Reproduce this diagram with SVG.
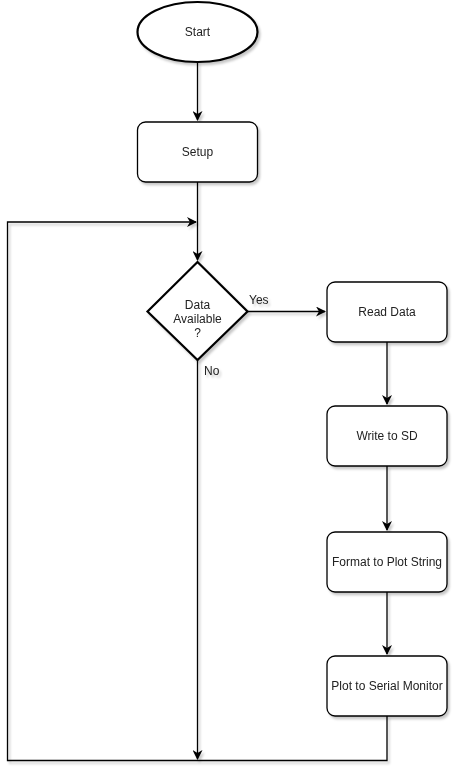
<svg xmlns="http://www.w3.org/2000/svg" width="459" height="781" viewBox="0 0 459 781">
  <defs>
    <filter id="shadow" x="-20%" y="-20%" width="140%" height="140%">
      <feDropShadow dx="2" dy="2.5" stdDeviation="1.3" flood-color="#000" flood-opacity="0.22"/>
    </filter>
    <marker id="arrow" viewBox="0 0 10 10" refX="9" refY="5" markerWidth="10" markerHeight="10" markerUnits="userSpaceOnUse" orient="auto">
      <path d="M0,0 L10,5 L0,10 L3,5 Z" fill="#000"/>
    </marker>
    <style>
      .shape { fill: #fff; stroke: #000; stroke-width: 1.3; }
      .decision { fill: #fff; stroke: #000; stroke-width: 2.2; }
      .start { fill: #fff; stroke: #000; stroke-width: 2.2; }
      .edge { fill: none; stroke: #000; stroke-width: 1.3; }
      .label { font-family: "Liberation Sans", Arial, sans-serif; font-size: 12px; fill: #222; text-anchor: middle; dominant-baseline: central; }
      .elabel { font-family: "Liberation Sans", Arial, sans-serif; font-size: 12px; fill: #222; }
    </style>
  </defs>
  <rect width="459" height="781" fill="#fff"/>

  <g id="connectors" filter="url(#shadow)">
    <path class="edge" d="M197.5,62 V120" marker-end="url(#arrow)"/>
    <path class="edge" d="M197.5,182 V260" marker-end="url(#arrow)"/>
    <path class="edge" d="M248,311.5 H325" marker-end="url(#arrow)"/>
    <path class="edge" d="M387,342 V404" marker-end="url(#arrow)"/>
    <path class="edge" d="M387,466 V530" marker-end="url(#arrow)"/>
    <path class="edge" d="M387,592 V654" marker-end="url(#arrow)"/>
    <path class="edge" d="M197.5,360 V759" marker-end="url(#arrow)"/>
    <path class="edge" d="M387,716 V760.5 H7.5 V222 H196" marker-end="url(#arrow)"/>
    <text class="elabel" x="249" y="304">Yes</text>
    <text class="elabel" x="204" y="375">No</text>
  </g>

  <g id="start" filter="url(#shadow)">
    <ellipse class="start" cx="197.5" cy="32" rx="60" ry="30"/>
    <text class="label" x="197.5" y="32">Start</text>
  </g>

  <g id="setup" filter="url(#shadow)">
    <rect class="shape" x="137.5" y="122" width="120" height="60" rx="8"/>
    <text class="label" x="197.5" y="152">Setup</text>
  </g>

  <g id="data-available" filter="url(#shadow)">
    <path class="decision" d="M197.5,262 L247.5,311.5 L197.5,360 L147.5,311.5 Z"/>
    <text class="label" x="197.5" y="305">Data</text>
    <text class="label" x="197.5" y="319">Available</text>
    <text class="label" x="197.5" y="333">?</text>
  </g>

  <g id="read-data" filter="url(#shadow)">
    <rect class="shape" x="327" y="282" width="120" height="60" rx="8"/>
    <text class="label" x="387" y="312">Read Data</text>
  </g>

  <g id="write-sd" filter="url(#shadow)">
    <rect class="shape" x="327" y="406" width="120" height="60" rx="8"/>
    <text class="label" x="387" y="436">Write to SD</text>
  </g>

  <g id="format-plot" filter="url(#shadow)">
    <rect class="shape" x="327" y="532" width="120" height="60" rx="8"/>
    <text class="label" x="387" y="562">Format to Plot String</text>
  </g>

  <g id="plot-serial" filter="url(#shadow)">
    <rect class="shape" x="327" y="656" width="120" height="60" rx="8"/>
    <text class="label" x="387" y="686">Plot to Serial Monitor</text>
  </g>
</svg>
